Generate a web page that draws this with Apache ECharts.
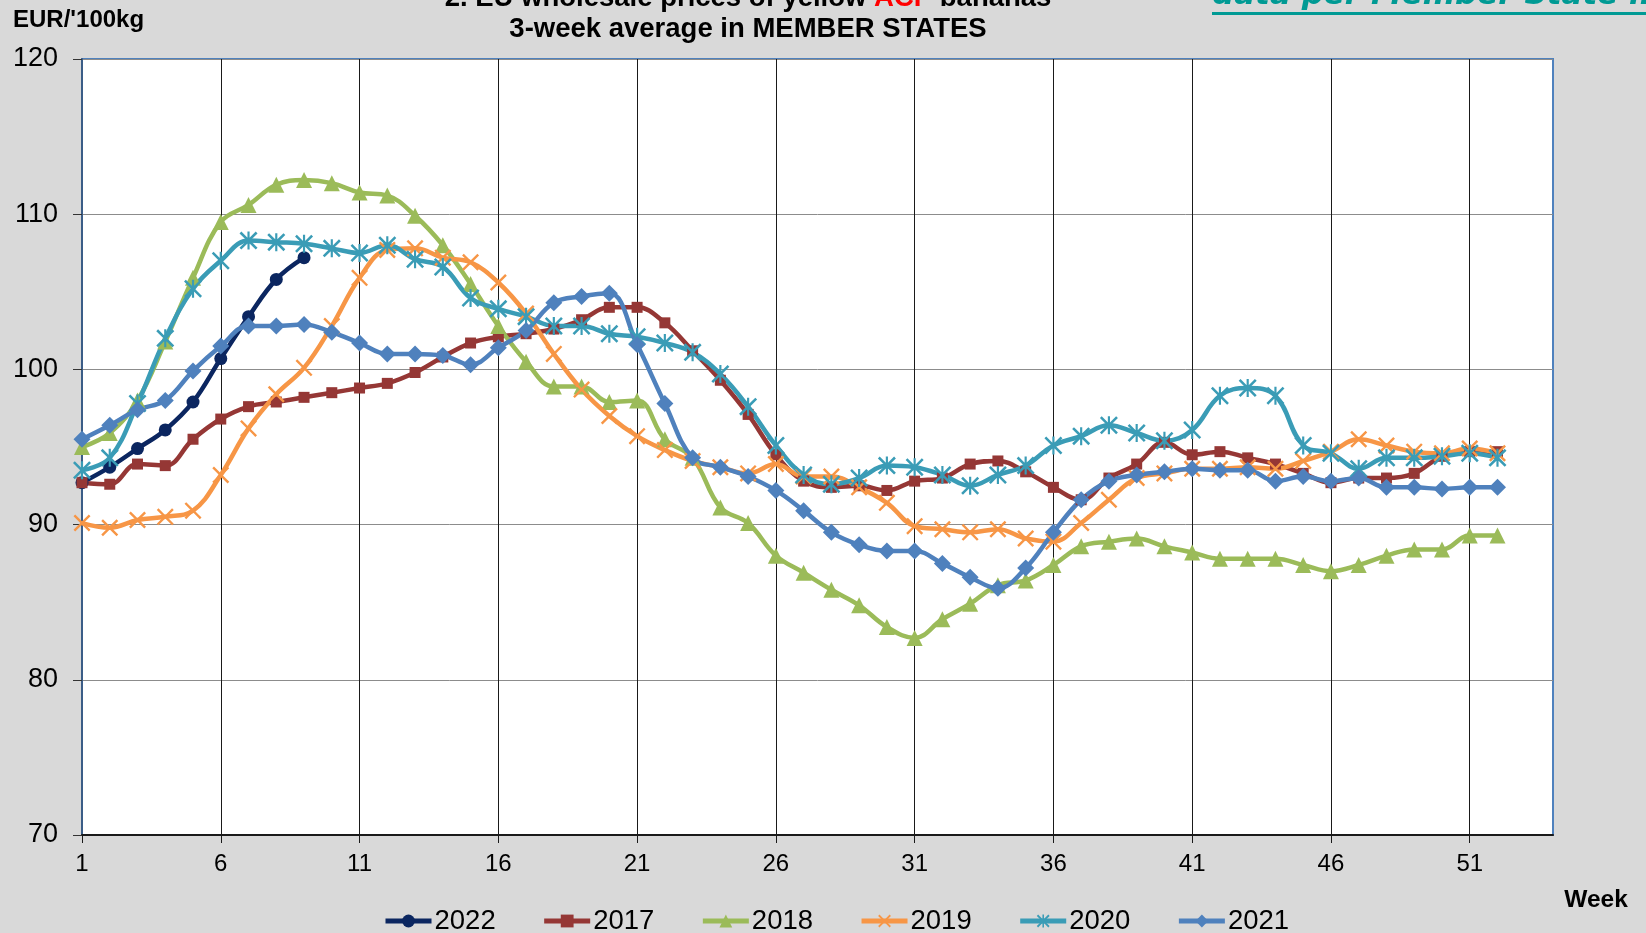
<!DOCTYPE html>
<html>
<head>
<meta charset="utf-8">
<title>EU wholesale prices of yellow ACP bananas</title>
<script src="https://cdn.jsdelivr.net/npm/echarts@6/dist/echarts.min.js"></script>
<style>
  html, body { margin: 0; padding: 0; background: #d9d9d9; }
  #chart { width: 1646px; height: 933px; }
</style>
</head>
<body>
<div id="chart"></div>
<script>
// Semanas (categorías del eje X)
const weeks = ['1','2','3','4','5','6','7','8','9','10','11','12','13','14','15','16','17','18',
  '19','20','21','22','23','24','25','26','27','28','29','30','31','32','33','34','35','36',
  '37','38','39','40','41','42','43','44','45','46','47','48','49','50','51','52','53','54'];

// Precios medios de 3 semanas, EUR/100kg
const prices2022 = [92.7, 93.7, 94.9, 96.1, 97.9, 100.7, 103.4, 105.8, 107.2];
const prices2017 = [92.7, 92.6, 93.9, 93.8, 95.5, 96.8, 97.6, 97.9, 98.2, 98.5, 98.8, 99.1, 99.8,
  100.8, 101.7, 102.1, 102.3, 102.6, 103.2, 104.0, 104.0, 103.0, 101.2, 99.3, 97.1, 94.5, 92.8,
  92.4, 92.5, 92.2, 92.8, 93.0, 93.9, 94.1, 93.4, 92.4, 91.6, 93.0, 93.9, 95.3, 94.5, 94.7,
  94.3, 93.9, 93.3, 92.7, 93.0, 93.0, 93.3, 94.4, 94.7, 94.7];
const prices2018 = [95.0, 95.9, 98.0, 101.8, 105.9, 109.5, 110.6, 111.9, 112.2, 112.0, 111.4,
  111.2, 109.9, 108.0, 105.5, 102.8, 100.5, 98.9, 98.9, 97.9, 98.0, 95.5, 94.3, 91.1, 90.1,
  88.0, 86.9, 85.8, 84.8, 83.4, 82.7, 83.9, 84.9, 86.1, 86.4, 87.4, 88.6, 88.9, 89.1, 88.6,
  88.2, 87.8, 87.8, 87.8, 87.4, 87.0, 87.4, 88.0, 88.4, 88.4, 89.3, 89.3];
const prices2019 = [90.1, 89.8, 90.3, 90.5, 90.9, 93.2, 96.2, 98.4, 100.1, 102.8, 105.9, 107.7,
  107.8, 107.2, 106.9, 105.6, 103.6, 101.0, 98.7, 97.0, 95.7, 94.8, 94.1, 93.7, 93.3, 93.9,
  93.1, 93.1, 92.4, 91.4, 89.9, 89.7, 89.5, 89.7, 89.1, 88.9, 90.1, 91.6, 93.0, 93.3, 93.6,
  93.6, 93.7, 93.6, 94.1, 94.7, 95.5, 95.1, 94.7, 94.6, 94.9, 94.6];
const prices2020 = [93.5, 94.3, 97.8, 102.0, 105.2, 107.0, 108.3, 108.2, 108.1, 107.8, 107.5,
  108.0, 107.1, 106.6, 104.6, 103.9, 103.4, 102.8, 102.8, 102.3, 102.1, 101.7, 101.1, 99.7,
  97.6, 95.1, 93.2, 92.6, 93.0, 93.8, 93.7, 93.2, 92.5, 93.2, 93.8, 95.1, 95.7, 96.4, 95.9,
  95.4, 96.1, 98.3, 98.8, 98.3, 95.1, 94.6, 93.6, 94.3, 94.3, 94.4, 94.6, 94.3];
const prices2021 = [95.5, 96.4, 97.4, 98.0, 99.9, 101.5, 102.8, 102.8, 102.9, 102.4, 101.7,
  101.0, 101.0, 100.9, 100.3, 101.4, 102.5, 104.3, 104.7, 104.9, 101.6, 97.8, 94.3, 93.7,
  93.1, 92.2, 90.9, 89.5, 88.7, 88.3, 88.3, 87.5, 86.6, 85.9, 87.2, 89.5, 91.6, 92.8, 93.2,
  93.4, 93.6, 93.5, 93.5, 92.8, 93.1, 92.8, 93.0, 92.4, 92.4, 92.3, 92.4, 92.4];

const yAxisTicks = [70, 80, 90, 100, 110, 120];

// Marcadores: cruz y asterisco como polígonos rellenos
const crossPath = 'path://M0,1 L1,0 L5,4 L9,0 L10,1 L6,5 L10,9 L9,10 L5,6 L1,10 L0,9 L4,5 Z';
const starPath = crossPath + ' M4.4,0 L5.6,0 L5.6,10 L4.4,10 Z';

const seriesDefs = [
  { name: '2022', data: prices2022, color: '#0b2660', symbol: 'circle', size: 13 },
  { name: '2017', data: prices2017, color: '#953735', symbol: 'rect', size: 11 },
  { name: '2018', data: prices2018, color: '#9bbb59', symbol: 'triangle', size: 16 },
  { name: '2019', data: prices2019, color: '#f79646', symbol: crossPath, size: 17 },
  { name: '2020', data: prices2020, color: '#3a9cb6', symbol: starPath, size: 18 },
  { name: '2021', data: prices2021, color: '#4f81bd', symbol: 'diamond', size: 17 }
];

const chart = echarts.init(document.getElementById('chart'));

const option = {
  animation: false,
  backgroundColor: '#d9d9d9',
  textStyle: { fontFamily: 'Liberation Sans, Arial, sans-serif' },
  grid: {
    left: 82, right: 93, top: 59, bottom: 98,
    show: true,
    backgroundColor: '#ffffff',
    borderColor: '#4f81bd',
    borderWidth: 2
  },
  legend: {
    left: 378,
    top: 902,
    itemWidth: 46,
    itemHeight: 16,
    itemGap: 46,
    data: seriesDefs.map(s => s.name),
    lineStyle: { width: 5 },
    textStyle: { fontSize: 27.5, color: '#000', padding: [0, 0, 0, -2] }
  },
  xAxis: {
    type: 'category',
    data: weeks,
    boundaryGap: false,
    axisLine: { lineStyle: { color: '#1a1a1a', width: 2 } },
    axisTick: { interval: 4, length: 8, lineStyle: { color: '#1a1a1a' } },
    axisLabel: { interval: 4, fontSize: 24, color: '#000', margin: 17 },
    splitLine: { show: true, interval: 4, lineStyle: { color: '#1a1a1a', width: 1 } }
  },
  yAxis: {
    type: 'value',
    min: yAxisTicks[0],
    max: yAxisTicks[yAxisTicks.length - 1],
    interval: 10,
    axisLine: { show: true, lineStyle: { color: '#3b5d87', width: 2 } },
    axisTick: { show: true, length: 9, lineStyle: { color: '#333' } },
    axisLabel: { fontSize: 27, color: '#000', margin: 24 },
    splitLine: { lineStyle: { color: '#8c8c8c', width: 1 } }
  },
  graphic: [
    {
      type: 'text', x: 13, y: 20,
      style: {
        text: "EUR/'100kg", verticalAlign: 'middle',
        font: 'bold 24px "Liberation Sans", Arial', fill: '#000'
      }
    },
    {
      type: 'text', x: 748, y: -1.5,
      style: {
        text: '{b|2. EU wholesale prices of yellow }{r|ACP}{b| bananas}',
        align: 'center', verticalAlign: 'middle',
        rich: {
          b: { font: 'bold 27.5px "Liberation Sans", Arial', fill: '#000' },
          r: { font: 'bold 27.5px "Liberation Sans", Arial', fill: '#ff0000' }
        }
      }
    },
    {
      type: 'text', x: 748, y: 29,
      style: {
        text: '3-week average in MEMBER STATES',
        align: 'center', verticalAlign: 'middle',
        font: 'bold 27.5px "Liberation Sans", Arial', fill: '#000'
      }
    },
    {
      type: 'text', x: 1212, y: 11,
      style: {
        text: 'data per Member State in',
        align: 'left', verticalAlign: 'bottom',
        font: 'italic bold 31px "DejaVu Sans", Verdana', fill: '#009a94'
      }
    },
    {
      type: 'rect', shape: { x: 1212, y: 12, width: 434, height: 3 },
      style: { fill: '#009a94' }
    },
    {
      type: 'text', x: 1596, y: 900,
      style: {
        text: 'Week', align: 'center', verticalAlign: 'middle',
        font: 'bold 24.5px "Liberation Sans", Arial', fill: '#000'
      }
    }
  ],
  series: seriesDefs.map(s => ({
    name: s.name,
    type: 'line',
    data: s.data,
    smooth: 0.4,
    symbol: s.symbol,
    symbolSize: s.size,
    showSymbol: true,
    lineStyle: { color: s.color, width: 4.5 },
    itemStyle: { color: s.color },
    emphasis: { disabled: true }
  }))
};

chart.setOption(option);
window.addEventListener('resize', () => chart.resize());
</script>
</body>
</html>
